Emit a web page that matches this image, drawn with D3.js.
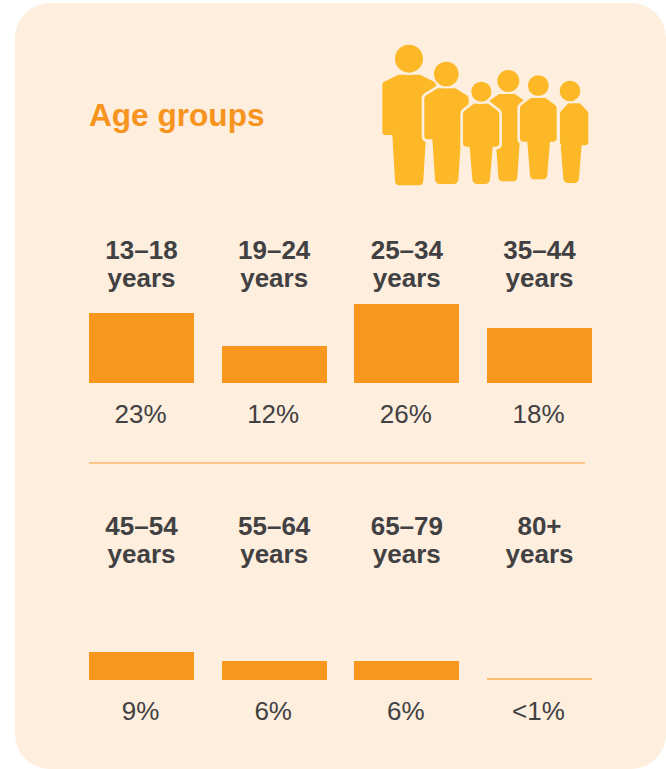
<!DOCTYPE html>
<html>
	<meta charset="utf-8" />
	<style>
		html,
		body,
		svg {
			padding: 0px;
			margin: 0px;
			display: block;
			background: #fff;
		}
		text {
			font-family: "Liberation Sans", sans-serif;
			fill: #414042;
			text-anchor: middle;
		}
		.title {
			font-size: 31.6px;
			font-weight: bold;
			fill: #f7941d;
			text-anchor: start;
		}
		.age {
			font-size: 26px;
			font-weight: bold;
		}
		.pct {
			font-size: 26px;
		}
	</style>
	<svg width="666" height="769"></svg>
	<script src="https://d3js.org/d3.v7.min.js"></script>
	<script>
		var topAges = ["13–18", "19–24", "25–34", "35–44"];
		var topValues = [23, 12, 26, 18];
		var topLabels = ["23%", "12%", "26%", "18%"];

		var bottomAges = ["45–54", "55–64", "65–79", "80+"];
		var bottomValues = [9, 6, 6, 0.5];
		var bottomLabels = ["9%", "6%", "6%", "<1%"];

		// head x, head y, head r, shoulder left, shoulder right, arm bottom, leg left, leg right, feet
		var people = [
			[117, 86, 42, 37, 198, 315, 70, 165, 466],
			[229, 132, 37, 163, 296, 328, 190, 270, 462],
			[415, 153, 33, 352, 470, 325, 380, 447, 454],
			[600, 183, 31, 570, 655, 346, 575, 632, 459],
			[505, 167, 31, 450, 560, 335, 475, 537, 448],
			[334, 185, 30, 279, 388, 350, 302, 365, 462],
		];

		var svg = d3.select("svg");

		svg.append("rect").attr("x", 15).attr("y", 3).attr("width", 651).attr("height", 766).attr("rx", 35).attr("fill", "#feeedd");

		svg.append("text").attr("class", "title").attr("x", 89).attr("y", 126).text("Age groups");

		svg.append("line").attr("x1", 89).attr("x2", 585).attr("y1", 463).attr("y2", 463).attr("stroke", "#fbc58a").attr("stroke-width", 2);

		var x = d3.scaleBand().domain([0, 1, 2, 3]).range([89, 592]).paddingInner(0.2085);
		var h = d3.scaleLinear().domain([0, 26]).range([0, 79]);

		function row(ages, values, labels, base, labelY) {
			var g = svg.append("g");
			var data = d3.range(ages.length);

			g.selectAll("rect")
				.data(data)
				.enter()
				.append("rect")
				.attr("x", (i) => Math.round(x(i)))
				.attr("y", (i) => base - Math.ceil(h(values[i])))
				.attr("width", Math.round(x.bandwidth()))
				.attr("height", (i) => Math.ceil(h(values[i])))
				.attr("fill", (i) => (values[i] < 1 ? "#fbbd74" : "#f8961d"));

			var age = g
				.selectAll(".age")
				.data(data)
				.enter()
				.append("text")
				.attr("class", "age")
				.attr("x", (i) => x(i) + x.bandwidth() / 2)
				.attr("y", labelY);
			age.append("tspan").text((i) => ages[i]);
			age.append("tspan")
				.attr("x", (i) => x(i) + x.bandwidth() / 2)
				.attr("dy", 27.5)
				.text("years");

			g.selectAll(".pct")
				.data(data)
				.enter()
				.append("text")
				.attr("class", "pct")
				.attr("x", (i) => x(i) + x.bandwidth() / 2 - 1)
				.attr("y", base + 40)
				.text((i) => labels[i]);
		}

		row(topAges, topValues, topLabels, 383, 259);
		row(bottomAges, bottomValues, bottomLabels, 680, 535);

		// people icon, drawn in 3x units
		var icon = svg.append("g").attr("transform", "translate(370,30) scale(0.3333)");

		function body(p) {
			var l = p[3],
				r = p[4],
				arm = p[5],
				ll = p[6],
				lr = p[7],
				foot = p[8],
				top = p[1] + p[2] + 6,
				sh = (r - l) * 0.3;
			return [
				"M", l + sh, top, "L", r - sh, top, "L", r - 4, top + 22, "Q", r, top + 25, r, top + 32, "L", r, arm - 10,
				"Q", r, arm, r - 10, arm, "L", lr + 3, arm,
				"L", lr - 5, foot - 14, "Q", lr - 6, foot, lr - 20, foot,
				"L", ll + 20, foot, "Q", ll + 6, foot, ll + 5, foot - 14,
				"L", ll - 3, arm, "L", l + 10, arm, "Q", l, arm, l, arm - 10,
				"L", l, top + 32, "Q", l, top + 25, l + 4, top + 22, "Z",
			].join(" ");
		}

		var person = icon.selectAll("g").data(people).enter().append("g");

		person
			.append("path")
			.attr("d", body)
			.attr("fill", "#fdb827")
			.attr("stroke", "#feeedd")
			.attr("stroke-width", 16)
			.attr("paint-order", "stroke");

		person
			.append("circle")
			.attr("cx", (p) => p[0])
			.attr("cy", (p) => p[1])
			.attr("r", (p) => p[2])
			.attr("fill", "#fdb827")
			.attr("stroke", "#feeedd")
			.attr("stroke-width", 12)
			.attr("paint-order", "stroke");
	</script>
</html>
